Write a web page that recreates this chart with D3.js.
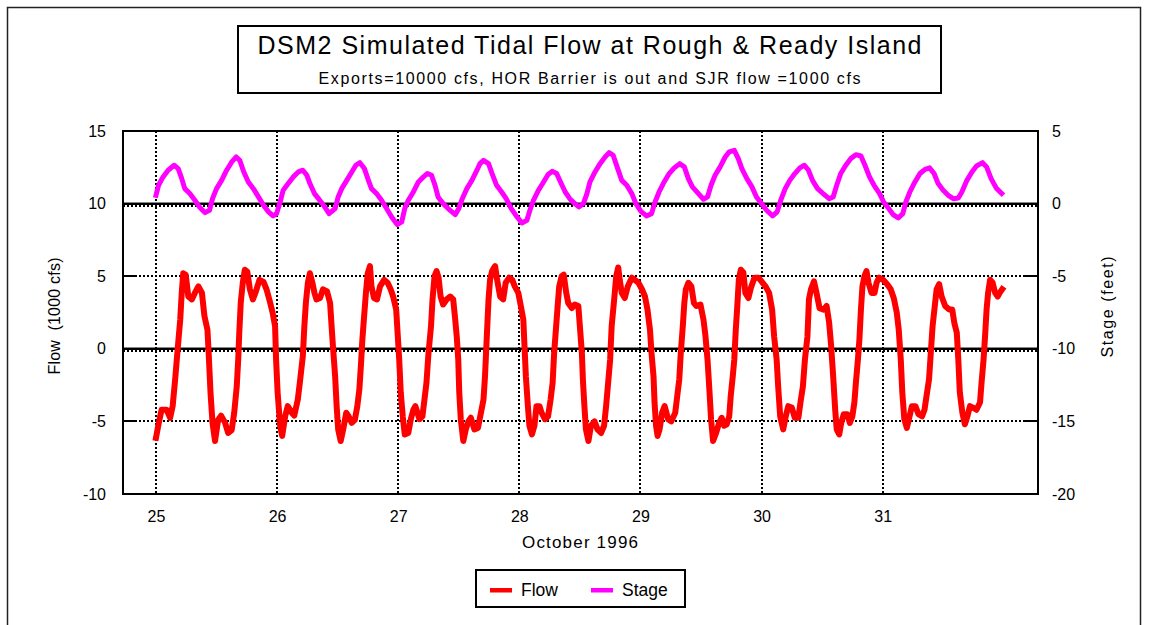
<!DOCTYPE html>
<html>
<head>
<meta charset="utf-8">
<script src="https://cdn.jsdelivr.net/npm/d3@7"></script>
<style>
  html, body { margin: 0; padding: 0; background: #fff; }
  svg { display: block; font-family: "Liberation Sans", Arial, sans-serif; }
</style>
</head>
<body>
<svg id="chart" width="1149" height="625"></svg>
<script>
// ---------------- DATA ----------------
const chartTitle = "DSM2 Simulated Tidal Flow at Rough & Ready Island";
const chartSubtitle = "Exports=10000 cfs, HOR Barrier is out and SJR flow =1000 cfs";
const xTickDays = [25, 26, 27, 28, 29, 30, 31];
const flowTicks = [-10, -5, 0, 5, 10, 15];
const stageTicks = [-20, -15, -10, -5, 0, 5];
const xLabel = "October 1996";
const flowLabel = "Flow  (1000 cfs)";
const stageLabel = "Stage (feet)";
const seriesNames = ["Flow", "Stage"];

// [hours since Oct 25 00:00, flow in 1000 cfs]
const flowSeries = [
[0,-6.13],[0.5,-5.2],[1.1,-4.2],[2.1,-4.2],[2.8,-4.75],[3.3,-3.95],[3.8,-2.1],[4.3,0],[4.8,2.0],[5.1,3.85],[5.4,5.2],[5.9,5.1],[6.4,3.6],[7.1,3.4],[7.7,3.85],[8.4,4.3],[9.1,3.85],[9.6,2.25],[10.2,1.3],[10.5,-0.75],[10.8,-3.0],[11.2,-5.1],[11.7,-6.35],[12.3,-4.9],[12.9,-4.6],[13.7,-5.1],[14.3,-5.8],[15.0,-5.6],[15.5,-4.4],[16.0,-2.6],[16.3,-0.7],[16.5,1.1],[16.8,3.2],[17.2,4.55],[17.6,5.45],[18.1,5.3],[18.6,4.1],[19.2,3.4],[19.8,3.95],[20.5,4.75],[21.3,4.6],[21.9,4.1],[22.6,3.2],[23.1,2.5],[23.6,1.55],[23.8,-0.75],[24.1,-3.0],[24.6,-5.3],[25.0,-6.0],[25.6,-4.65],[26.1,-3.95],[26.9,-4.4],[27.4,-4.6],[28.1,-3.5],[28.5,-2.35],[29.1,-0.5],[29.4,1.55],[29.7,3.15],[30.1,4.55],[30.5,5.2],[31.0,4.55],[31.4,3.85],[31.8,3.4],[32.5,3.5],[33.1,4.1],[33.9,3.95],[34.5,3.15],[34.8,1.55],[35.1,0],[35.5,-1.9],[35.8,-3.95],[36.1,-5.55],[36.6,-6.35],[37.1,-5.55],[37.7,-4.4],[38.1,-4.6],[38.8,-5.1],[39.4,-4.9],[39.9,-3.95],[40.3,-2.8],[40.6,-1.2],[40.9,0.65],[41.3,2.5],[41.6,3.85],[41.96,5.2],[42.4,5.7],[42.7,4.3],[43.2,3.5],[43.8,3.4],[44.4,4.3],[45.2,4.75],[45.9,4.55],[46.5,4.1],[47.0,3.6],[47.6,2.7],[47.8,1.55],[48.2,-0.75],[48.5,-3.0],[48.9,-4.65],[49.3,-5.9],[50.0,-5.8],[50.5,-4.85],[51.0,-4.2],[51.4,-3.95],[52.2,-4.85],[52.8,-4.65],[53.2,-3.5],[53.6,-2.35],[54.0,-0.3],[54.5,1.55],[54.8,3.4],[55.2,5.0],[55.6,5.35],[56.0,4.9],[56.4,3.6],[56.9,3.05],[57.6,3.4],[58.3,3.6],[58.9,3.4],[59.3,2.0],[59.6,0.85],[59.9,-0.75],[60.1,-3.0],[60.4,-4.85],[60.9,-6.35],[61.4,-5.55],[61.9,-5.0],[62.4,-4.75],[63.1,-5.55],[63.8,-5.45],[64.4,-4.4],[64.9,-3.5],[65.2,-1.9],[65.5,0.4],[65.9,3.4],[66.2,4.75],[66.6,5.35],[67.2,5.7],[67.6,4.75],[68.2,3.6],[68.8,3.4],[69.3,4.55],[70.0,4.9],[70.6,4.75],[71.1,4.3],[71.8,3.85],[72.3,2.95],[72.8,2.0],[73.0,0.4],[73.3,-1.9],[73.7,-3.95],[74.0,-5.3],[74.5,-5.9],[75.0,-5.3],[75.4,-3.95],[76.0,-3.95],[76.4,-4.4],[77.1,-4.85],[77.7,-4.65],[78.2,-3.5],[78.6,-2.35],[78.9,-0.3],[79.3,1.55],[79.6,2.95],[79.9,4.3],[80.4,5.0],[80.8,5.1],[81.3,3.85],[81.7,3.15],[82.4,2.8],[83.0,3.05],[83.7,2.95],[84.0,1.55],[84.4,-0.3],[84.6,-2.1],[84.9,-3.95],[85.2,-5.55],[85.7,-6.35],[86.2,-5.3],[86.9,-5.0],[87.5,-5.55],[88.2,-5.8],[88.8,-5.3],[89.2,-3.95],[89.6,-2.35],[90.0,-0.75],[90.3,1.55],[90.8,3.4],[91.2,5.0],[91.6,5.6],[91.9,4.75],[92.3,3.85],[92.9,3.5],[93.5,4.3],[94.3,4.9],[94.9,4.75],[95.6,4.55],[96.3,4.1],[96.9,3.6],[97.4,2.7],[97.9,1.3],[98.2,-0.3],[98.6,-1.9],[98.8,-3.7],[99.1,-5.3],[99.4,-6.0],[99.8,-5.55],[100.3,-4.4],[100.8,-3.95],[101.5,-4.85],[102.1,-5.0],[102.9,-4.4],[103.3,-3.25],[103.7,-2.1],[104.0,-0.3],[104.4,1.55],[104.7,3.15],[105.0,4.1],[105.5,4.55],[106.1,4.3],[106.6,3.15],[107.1,2.95],[107.9,3.05],[108.5,2.0],[108.9,0.85],[109.3,-0.75],[109.7,-3.0],[110.0,-4.85],[110.4,-6.35],[111.0,-5.8],[111.6,-5.1],[112.1,-4.75],[112.6,-5.3],[113.1,-5.2],[113.6,-4.65],[113.9,-3.25],[114.3,-1.9],[114.6,-0.75],[114.9,1.3],[115.2,2.95],[115.5,4.75],[115.9,5.45],[116.4,5.25],[116.8,3.85],[117.4,3.5],[117.9,4.2],[118.6,4.9],[119.4,4.9],[120.2,4.55],[120.8,4.3],[121.5,3.85],[122.1,2.7],[122.5,0.85],[123.0,-0.75],[123.3,-2.6],[123.7,-4.65],[124.3,-5.55],[124.8,-4.65],[125.3,-3.95],[126.0,-4.05],[126.6,-4.75],[127.3,-4.75],[127.8,-3.5],[128.2,-2.6],[128.6,-0.75],[129.1,0.85],[129.4,3.4],[129.8,4.1],[130.4,4.65],[130.9,3.85],[131.5,2.8],[132.3,2.7],[132.9,2.95],[133.4,1.8],[133.8,0.2],[134.2,-1.9],[134.6,-4.2],[134.9,-5.55],[135.4,-5.9],[135.8,-5.1],[136.3,-4.5],[137.0,-4.5],[137.5,-5.1],[138.0,-4.65],[138.4,-3.7],[138.7,-2.35],[139.1,-0.75],[139.4,0.65],[139.7,2.7],[140.0,4.3],[140.4,5.0],[140.8,5.35],[141.2,4.55],[141.8,3.85],[142.4,3.85],[142.8,4.55],[143.3,4.9],[144.1,4.75],[144.9,4.45],[145.6,4.1],[146.2,3.5],[146.8,2.5],[147.2,1.3],[147.6,-0.75],[147.9,-3.0],[148.3,-4.85],[148.8,-5.45],[149.2,-4.85],[149.8,-3.95],[150.5,-3.95],[151.1,-4.5],[151.8,-4.65],[152.3,-4.2],[152.7,-3.25],[153.2,-2.1],[153.6,0],[153.9,1.55],[154.4,3.15],[154.7,4.1],[155.2,4.45],[155.7,3.6],[156.4,2.95],[157.2,2.7],[157.8,2.7],[158.2,1.8],[158.7,1.1],[159.0,-0.75],[159.3,-3.0],[159.8,-4.4],[160.3,-5.2],[160.8,-4.65],[161.3,-3.95],[161.9,-4.05],[162.6,-4.2],[163.3,-3.7],[163.6,-2.35],[164.0,-0.75],[164.3,0.85],[164.6,2.7],[164.9,3.85],[165.3,4.75],[165.8,4.55],[166.3,3.85],[166.8,3.6],[167.2,3.85],[167.7,4.1]
];

// [hours since Oct 25 00:00, stage in feet]
const stageSeries = [
[0,0.57],[0.5,1.26],[1.4,1.84],[2.4,2.3],[3.6,2.64],[4.4,2.41],[5.1,1.72],[5.7,1.03],[6.7,0.69],[7.7,0.23],[8.6,-0.23],[9.7,-0.62],[10.6,-0.46],[11.2,0.34],[12.0,1.03],[13.0,1.6],[14.0,2.3],[15.0,2.87],[15.9,3.21],[16.6,2.98],[17.4,2.18],[18.3,1.49],[19.3,1.03],[20.3,0.46],[21.3,-0.11],[22.3,-0.57],[23.2,-0.85],[23.9,-0.69],[24.6,0.11],[25.2,0.92],[26.2,1.38],[27.2,1.84],[28.2,2.18],[29.1,2.3],[29.9,1.95],[30.5,1.38],[31.4,0.69],[32.2,0.34],[33.2,-0.11],[34.3,-0.69],[35.5,-0.34],[36.1,0.46],[36.8,1.03],[37.8,1.6],[38.8,2.18],[39.6,2.64],[40.4,2.82],[41.3,2.41],[42.1,1.6],[42.7,1.03],[43.7,0.69],[44.7,0.23],[45.7,-0.34],[46.7,-0.92],[47.8,-1.45],[48.7,-1.26],[49.3,-0.34],[50.0,0.23],[51.0,0.8],[52.0,1.49],[53.0,1.84],[53.8,2.07],[54.6,1.95],[55.3,1.26],[55.9,0.46],[56.9,0],[57.9,-0.34],[59.3,-0.76],[60.0,-0.34],[60.7,0.34],[61.6,1.03],[62.6,1.6],[63.6,2.3],[64.2,2.75],[64.9,2.98],[65.9,2.75],[66.6,2.07],[67.5,1.26],[68.5,0.8],[69.4,0.34],[70.4,-0.34],[71.3,-0.8],[72.5,-1.33],[73.5,-1.15],[74.1,-0.46],[74.8,0.23],[75.8,0.92],[76.8,1.49],[77.7,2.0],[78.5,2.22],[79.4,2.07],[80.3,1.38],[81.1,0.8],[82.0,0.34],[83.0,0],[83.8,-0.23],[84.7,0],[85.4,0.69],[86.0,1.49],[87.0,2.18],[88.0,2.75],[89.0,3.21],[89.8,3.51],[90.6,3.33],[91.5,2.41],[92.3,1.6],[93.3,1.26],[94.3,0.69],[95.1,0],[96.1,-0.53],[97.2,-0.85],[98.2,-0.69],[98.9,0.11],[99.7,0.8],[100.7,1.49],[101.7,2.07],[102.7,2.46],[103.8,2.75],[104.7,2.53],[105.5,1.72],[106.3,1.15],[107.5,0.69],[108.5,0.3],[109.3,0.46],[110.0,1.26],[110.8,1.95],[111.8,2.53],[112.8,3.21],[113.6,3.56],[114.6,3.67],[115.4,3.1],[116.1,2.41],[117.1,1.72],[118.1,1.15],[119.0,0.46],[120.0,0],[121.0,-0.46],[122.2,-0.85],[123.1,-0.57],[123.8,0.23],[124.7,1.03],[125.6,1.6],[126.6,2.07],[127.6,2.46],[128.5,2.64],[129.3,2.3],[130.1,1.6],[131.1,1.03],[132.2,0.69],[133.4,0.34],[134.2,0.46],[134.9,1.26],[135.7,2.07],[136.7,2.64],[137.7,3.1],[138.7,3.37],[139.7,3.28],[140.5,2.64],[141.4,1.84],[142.3,1.26],[143.4,0.69],[144.2,0.11],[145.2,-0.34],[146.1,-0.76],[147.1,-0.99],[148.0,-0.69],[148.6,0.11],[149.4,0.8],[150.4,1.49],[151.4,2.07],[152.4,2.36],[153.3,2.46],[154.2,2.07],[155.0,1.38],[156.0,0.92],[157.0,0.57],[158.0,0.34],[159.0,0.39],[159.7,0.8],[160.7,1.6],[161.7,2.18],[162.6,2.59],[163.8,2.82],[164.6,2.53],[165.5,1.72],[166.5,1.08],[167.6,0.69]
];

// ---------------- CHART ----------------
const svg = d3.select("#chart");
const plot = { left: 123, right: 1038, top: 131, bottom: 494 };
const font = '"Liberation Sans", Arial, sans-serif';

const x = d3.scaleLinear().domain([24.7275, 32.283]).range([plot.left, plot.right]);
const yFlow = d3.scaleLinear().domain([-10, 15]).range([plot.bottom, plot.top]);
const yStage = d3.scaleLinear().domain([-20, 5]).range([plot.bottom, plot.top]);
const dayOf = h => 25 + h / 24;

svg.append("rect").attr("width", 1149).attr("height", 625).attr("fill", "#fff");
// outer frame
svg.append("rect").attr("x", 7.5).attr("y", 7.5).attr("width", 1133).attr("height", 640)
  .attr("fill", "none").attr("stroke", "#222").attr("stroke-width", 1.5);

// title box
svg.append("rect").attr("x", 238).attr("y", 26).attr("width", 703).attr("height", 67)
  .attr("fill", "#fff").attr("stroke", "#000").attr("stroke-width", 2);
svg.append("text").attr("x", 589.5).attr("y", 54).attr("text-anchor", "middle")
  .attr("font-size", 25).attr("textLength", 664).attr("lengthAdjust", "spacing")
  .attr("fill", "#000").text(chartTitle);
svg.append("text").attr("x", 589.5).attr("y", 84).attr("text-anchor", "middle")
  .attr("font-size", 16).attr("textLength", 542).attr("lengthAdjust", "spacing")
  .attr("fill", "#000").text(chartSubtitle);

// gridlines
const g = svg.append("g").attr("shape-rendering", "crispEdges");
[yStage(0), yFlow(0)].forEach(yy => {
  g.append("line").attr("x1", plot.left).attr("x2", plot.right)
    .attr("y1", yy).attr("y2", yy).attr("stroke", "#888").attr("stroke-width", 3);
  g.append("line").attr("x1", plot.left).attr("x2", plot.right)
    .attr("y1", yy).attr("y2", yy).attr("stroke", "#000").attr("stroke-width", 2);
});

// horizontal dotted
g.selectAll(".hgrid").data(flowTicks.filter(v => v > -10 && v < 15)).enter().append("line")
  .attr("x1", plot.left).attr("x2", plot.right)
  .attr("y1", d => Math.round(yFlow(d)) + (d === 0 || d === 10 ? 2 : 0))
  .attr("y2", d => Math.round(yFlow(d)) + (d === 0 || d === 10 ? 2 : 0))
  .attr("stroke", "#000").attr("stroke-width", 2).attr("stroke-dasharray", "2,2");
// vertical dotted
g.selectAll(".vgrid").data(xTickDays).enter().append("line")
  .attr("x1", d => Math.round(x(d))).attr("x2", d => Math.round(x(d)))
  .attr("y1", plot.top).attr("y2", plot.bottom)
  .attr("stroke", "#000").attr("stroke-width", 2).attr("stroke-dasharray", "2,2");

// inward y ticks
flowTicks.forEach(v => {
  g.append("line").attr("x1", plot.left).attr("x2", plot.left + 14)
    .attr("y1", yFlow(v)).attr("y2", yFlow(v)).attr("stroke", "#000").attr("stroke-width", 2);
});
stageTicks.forEach(v => {
  g.append("line").attr("x1", plot.right - 14).attr("x2", plot.right)
    .attr("y1", yStage(v)).attr("y2", yStage(v)).attr("stroke", "#000").attr("stroke-width", 2);
});

// series lines
svg.append("clipPath").attr("id", "clip").append("rect")
  .attr("x", plot.left).attr("y", plot.top).attr("width", plot.right - plot.left).attr("height", plot.bottom - plot.top);
const lines = svg.append("g").attr("clip-path", "url(#clip)");
const flowLine = d3.line().x(d => x(dayOf(d[0]))).y(d => yFlow(d[1])).curve(d3.curveLinear);
const stageLine = d3.line().x(d => x(dayOf(d[0]))).y(d => yStage(d[1])).curve(d3.curveLinear);
lines.append("path").datum(stageSeries).attr("d", stageLine)
  .attr("fill", "none").attr("stroke", "#FF00FF").attr("stroke-width", 5)
  .attr("stroke-linejoin", "round").attr("stroke-linecap", "square");
lines.append("path").datum(flowSeries).attr("d", flowLine)
  .attr("fill", "none").attr("stroke", "#FF0000").attr("stroke-width", 6)
  .attr("stroke-linejoin", "round").attr("stroke-linecap", "square");

// plot frame
svg.append("rect").attr("x", plot.left).attr("y", plot.top)
  .attr("width", plot.right - plot.left).attr("height", plot.bottom - plot.top)
  .attr("fill", "none").attr("stroke", "#000").attr("stroke-width", 2)
  .attr("shape-rendering", "crispEdges");

// axes (labels)
const axL = svg.append("g").attr("transform", `translate(${plot.left},0)`)
  .call(d3.axisLeft(yFlow).tickValues(flowTicks).tickSize(0).tickPadding(17).tickFormat(d3.format("d")));
const axR = svg.append("g").attr("transform", `translate(${plot.right},0)`)
  .call(d3.axisRight(yStage).tickValues(stageTicks).tickSize(0).tickPadding(14).tickFormat(d3.format("d")));
const axB = svg.append("g").attr("transform", `translate(0,${plot.bottom})`)
  .call(d3.axisBottom(x).tickValues(xTickDays).tickSize(0).tickPadding(17).tickFormat(d3.format("d")));
[axL, axR, axB].forEach(a => {
  a.select(".domain").remove();
  a.selectAll("text").attr("font-size", 16).attr("font-family", font).attr("fill", "#000");
});
axL.selectAll("text").text(d => d < 0 ? "-" + Math.abs(d) : d);
axR.selectAll("text").text(d => d < 0 ? "-" + Math.abs(d) : d);

// axis titles
svg.append("text").attr("x", 580).attr("y", 548).attr("text-anchor", "middle")
  .attr("font-size", 17).attr("textLength", 116).attr("lengthAdjust", "spacing").text(xLabel);
svg.append("text").attr("transform", "translate(60,316) rotate(-90)").attr("text-anchor", "middle")
  .attr("font-size", 16).attr("textLength", 117).attr("lengthAdjust", "spacing")
  .style("white-space", "pre").text(flowLabel);
svg.append("text").attr("transform", "translate(1113,307) rotate(-90)").attr("text-anchor", "middle")
  .attr("font-size", 16).attr("textLength", 101).attr("lengthAdjust", "spacing").text(stageLabel);

// legend
const leg = svg.append("g");
leg.append("rect").attr("x", 476).attr("y", 570).attr("width", 209).attr("height", 37)
  .attr("fill", "#fff").attr("stroke", "#000").attr("stroke-width", 2);
const legColors = ["#FF0000", "#FF00FF"];
const legX = [490, 591];
seriesNames.forEach((n, i) => {
  leg.append("rect").attr("x", legX[i]).attr("y", 588).attr("width", 22).attr("height", 4.5)
    .attr("fill", legColors[i]);
  leg.append("text").attr("x", legX[i] + 31).attr("y", 596).attr("font-size", 17.5).attr("fill", "#000").text(n);
});
</script>
</body>
</html>
